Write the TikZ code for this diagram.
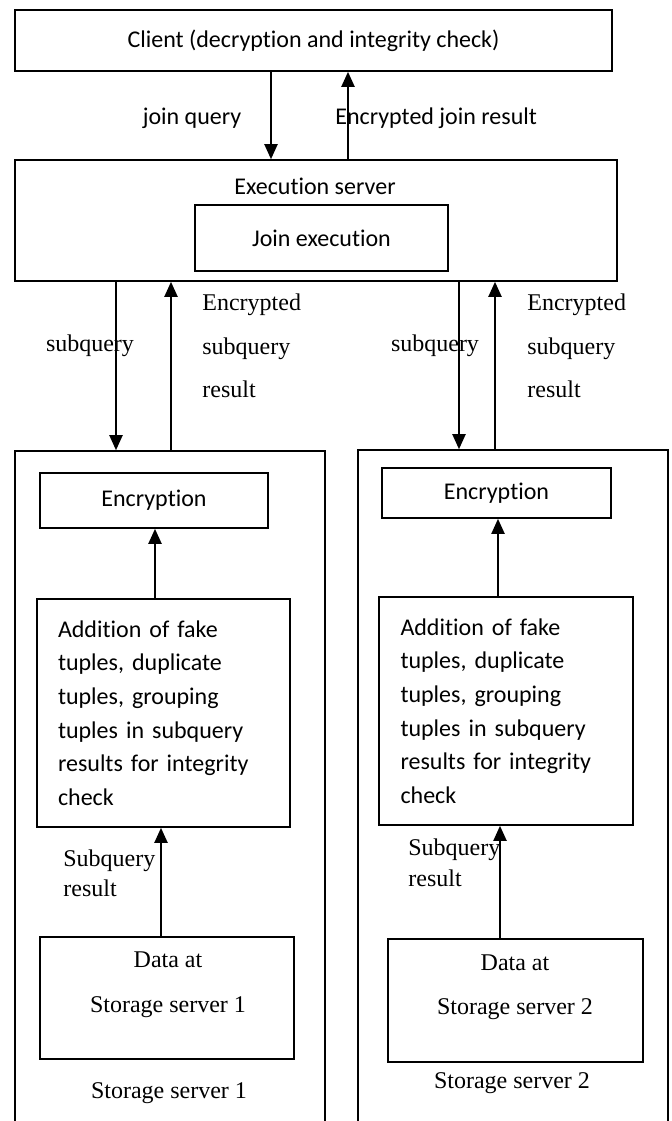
\documentclass[tikz,border=0pt]{standalone}
\usepackage{fontspec}
\setmainfont{Liberation Serif}
\newfontfamily\calibri[Ligatures=NoCommon]{Carlito}
\usetikzlibrary{arrows.meta}

\tikzset{
	box/.style={draw, line width=0.8pt, inner sep=0pt, font=\calibri\fontsize{12}{14}\selectfont},
	arr/.style={line width=1pt, -{Triangle[length=7.5pt,width=6.5pt]}},
	sans/.style={inner sep=0pt, font=\calibri\fontsize{12}{14}\selectfont},
	serif/.style={inner sep=0pt, align=left, font=\fontsize{12}{21.75}\selectfont},
}

\begin{document}
\begin{tikzpicture}[x=0.5pt, y=-0.5pt]
	\clip (0,0) rectangle (672,1121);

	% client and execution server
	\node[box, minimum width=298.5pt, minimum height=30.5pt] (client) at (313.5,40.5) {Client (decryption and integrity check)};
	\node[box, minimum width=301pt, minimum height=60.5pt] (exec) at (316,220.5) {};
	\node[sans] (exectxt) at (315,186) {Execution server};
	\node[box, minimum width=126.5pt, minimum height=33pt] (joinx) at (321.5,238) {Join execution};

	% storage servers (open at the bottom)
	\node[box, minimum width=155pt, minimum height=344.5pt] (srv1) at (170,795.5) {};
	\node[box, minimum width=155pt, minimum height=345pt] (srv2) at (513,795) {};

	\node[box, minimum width=114pt, minimum height=27.5pt] (enc1) at (154,500.5) {Encryption};
	\node[box, minimum width=114.5pt, minimum height=25pt] (enc2) at (496.5,493) {Encryption};

	\node[box, minimum width=126.5pt, minimum height=114pt, text width=105.5pt, align=left,
		font=\calibri\fontsize{12}{16.8}\selectfont] (add1) at (163.5,713)
		{Addition of fake\\tuples, duplicate\\tuples, grouping\\tuples in subquery\\results for integrity\\check};
	\node[box, minimum width=127pt, minimum height=114pt, text width=105.5pt, align=left,
		font=\calibri\fontsize{12}{16.8}\selectfont] (add2) at (506,711)
		{Addition of fake\\tuples, duplicate\\tuples, grouping\\tuples in subquery\\results for integrity\\check};

	\node[box, minimum width=127pt, minimum height=61pt] (data1) at (167,998) {};
	\node[box, minimum width=127.5pt, minimum height=61.5pt] (data2) at (515.5,1000.5) {};
	\node[serif, align=center, font=\fontsize{12}{22.5}\selectfont] (data1txt) at (168,984.5) {Data at\\Storage server 1};
	\node[serif, align=center, font=\fontsize{12}{22}\selectfont] (data2txt) at (515,987) {Data at\\Storage server 2};
	\node[serif] (srv1txt) at (169,1093) {Storage server 1};
	\node[serif] (srv2txt) at (512,1083) {Storage server 2};

	% x positions of the arrows
	\coordinate (jq) at (271,0);
	\coordinate (jr) at (348,0);
	\coordinate (sq1) at (116,0);
	\coordinate (sr1) at (171,0);
	\coordinate (sq2) at (459,0);
	\coordinate (sr2) at (495,0);
	\coordinate (ar1) at (155,0);
	\coordinate (ar2) at (498,0);
	\coordinate (dr1) at (161,0);
	\coordinate (dr2) at (500,0);

	\draw[arr] (jq |- client.south) -- (jq |- exec.north);
	\draw[arr] (jr |- exec.north) -- (jr |- client.south);
	\node[sans] (jqtxt) at (192,118) {join query};
	\node[sans, anchor=west] (jrtxt) at (335,118) {Encrypted join result};

	\draw[arr] (sq1 |- exec.south) -- (sq1 |- srv1.north);
	\draw[arr] (sr1 |- srv1.north) -- (sr1 |- exec.south);
	\draw[arr] (sq2 |- exec.south) -- (sq2 |- srv2.north);
	\draw[arr] (sr2 |- srv2.north) -- (sr2 |- exec.south);
	\node[serif] (sq1txt) at (90,346) {subquery};
	\node[serif, anchor=west] (sr1txt) at (202,346) {Encrypted\\subquery\\result};
	\node[serif] (sq2txt) at (435,346) {subquery};
	\node[serif, anchor=west] (sr2txt) at (527,346) {Encrypted\\subquery\\result};

	\draw[arr] (ar1 |- add1.north) -- (ar1 |- enc1.south);
	\draw[arr] (ar2 |- add2.north) -- (ar2 |- enc2.south);

	\draw[arr] (dr1 |- data1.north) -- (dr1 |- add1.south);
	\draw[arr] (dr2 |- data2.north) -- (dr2 |- add2.south);
	\node[serif, anchor=west, font=\fontsize{12}{15}\selectfont] (dr1txt) at (63,873) {Subquery\\result};
	\node[serif, anchor=west, font=\fontsize{12}{15.5}\selectfont] (dr2txt) at (408,862.5) {Subquery\\result};
\end{tikzpicture}
\end{document}
